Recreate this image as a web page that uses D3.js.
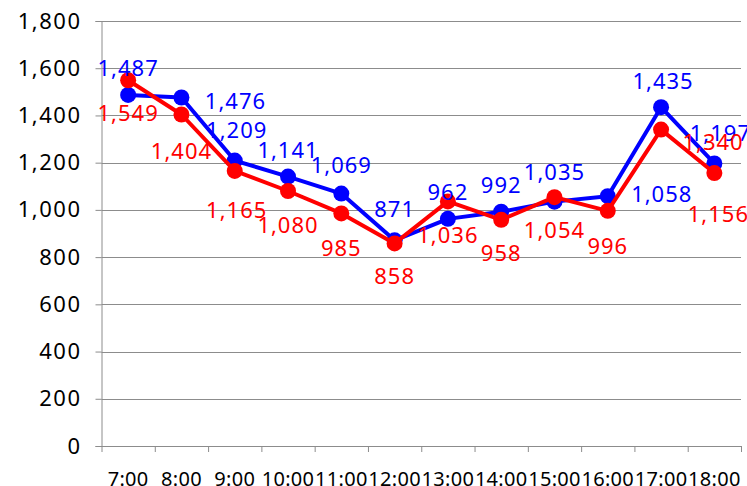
<!DOCTYPE html>
<html>
<head>
<meta charset="utf-8">
<script src="https://cdn.jsdelivr.net/npm/d3@7"></script>
<style>
  body { margin: 0; background: #fff; }
  text { font-family: "Noto Sans", "DejaVu Sans", sans-serif; }
</style>
</head>
<body>
<script>
// categories and series
var hours = ["7:00", "8:00", "9:00", "10:00", "11:00", "12:00", "13:00", "14:00", "15:00", "16:00", "17:00", "18:00"];
var blueValues = [1487, 1476, 1209, 1141, 1069, 871, 962, 992, 1035, 1058, 1435, 1197];
var redValues = [1549, 1404, 1165, 1080, 985, 858, 1036, 958, 1054, 996, 1340, 1156];
var yTicks = [0, 200, 400, 600, 800, 1000, 1200, 1400, 1600, 1800];

// label nudges (layout only) [dx, dy] in px
var blueLabelShift = [[0, -28], [54, 2], [2, -32], [0, -28], [0, -30], [0, -32], [0, -28], [0, -28], [0, -31], [54, -3], [2, -27], [6, -31]];
var redLabelShift = [[0, 32], [0, 35], [2, 38], [0, 33], [0, 34], [0, 32], [0, 33], [0, 32], [0, 32], [0, 34], [52, 11], [4, 40]];

var margin = { top: 21, right: 6, bottom: 40, left: 101.5 },
    width = 747 - margin.left - margin.right,
    height = 486 - margin.top - margin.bottom;

var svg = d3.select("body").append("svg")
    .attr("width", 747)
    .attr("height", 486)
  .append("g")
    .attr("transform", `translate(${margin.left}, ${margin.top})`);

var x = d3.scaleBand().domain(hours).range([0, width]);
var y = d3.scaleLinear().domain([0, 1800]).range([height, 0]);
var fmt = d3.format(",");

// gridlines
svg.append("g")
  .selectAll("line")
  .data(yTicks)
  .join("line")
    .attr("x1", 0).attr("x2", width)
    .attr("y1", d => Math.round(y(d)) + 0.5).attr("y2", d => Math.round(y(d)) + 0.5)
    .attr("stroke", "#8c8c8c")
    .attr("stroke-width", 1);

// y axis
var yAxis = svg.append("g")
  .call(d3.axisLeft(y).tickValues(yTicks).tickFormat(fmt).tickSize(6).tickPadding(14));
yAxis.select(".domain").attr("stroke", "#8c8c8c");
yAxis.selectAll(".tick line").attr("stroke", "#8c8c8c");
yAxis.selectAll(".tick text")
  .attr("font-size", 22)
  .attr("letter-spacing", 1.5)
  .attr("fill", "#000");

// x axis
var xAxis = svg.append("g")
  .attr("transform", `translate(0, ${height})`)
  .call(d3.axisBottom(x).tickSize(0).tickPadding(26));
xAxis.select(".domain").attr("stroke", "#8c8c8c");
xAxis.selectAll(".tick text")
  .attr("font-size", 20)
  .attr("letter-spacing", 0.3)
  .attr("fill", "#000");
// category boundary ticks
svg.append("g")
  .selectAll("line")
  .data(hours.concat(["end"]))
  .join("line")
    .attr("x1", (d, i) => i * x.step() + 0.5).attr("x2", (d, i) => i * x.step() + 0.5)
    .attr("y1", height).attr("y2", height + 6)
    .attr("stroke", "#8c8c8c");

var cx = d => x(d) + x.bandwidth() / 2;

function drawSeries(values, color) {
  var line = d3.line()
    .x((d, i) => cx(hours[i]))
    .y(d => y(d));
  svg.append("path")
    .datum(values)
    .attr("fill", "none")
    .attr("stroke", color)
    .attr("stroke-width", 4)
    .attr("stroke-linejoin", "round")
    .attr("d", line);
  svg.append("g")
    .selectAll("circle")
    .data(values)
    .join("circle")
      .attr("cx", (d, i) => cx(hours[i]))
      .attr("cy", d => y(d))
      .attr("r", 8)
      .attr("fill", color);
}

function drawLabels(values, color, shifts) {
  svg.append("g")
    .selectAll("text")
    .data(values)
    .join("text")
      .attr("x", (d, i) => cx(hours[i]) + shifts[i][0])
      .attr("y", (d, i) => y(d) + shifts[i][1])
      .attr("text-anchor", "middle")
      .attr("dominant-baseline", "central")
      .attr("font-size", 22)
      .attr("letter-spacing", 1)
      .attr("fill", color)
      .text(d => fmt(d));
}

drawSeries(blueValues, "#0000ff");
drawSeries(redValues, "#ff0000");
drawLabels(blueValues, "#0000ff", blueLabelShift);
drawLabels(redValues, "#ff0000", redLabelShift);
</script>
</body>
</html>
